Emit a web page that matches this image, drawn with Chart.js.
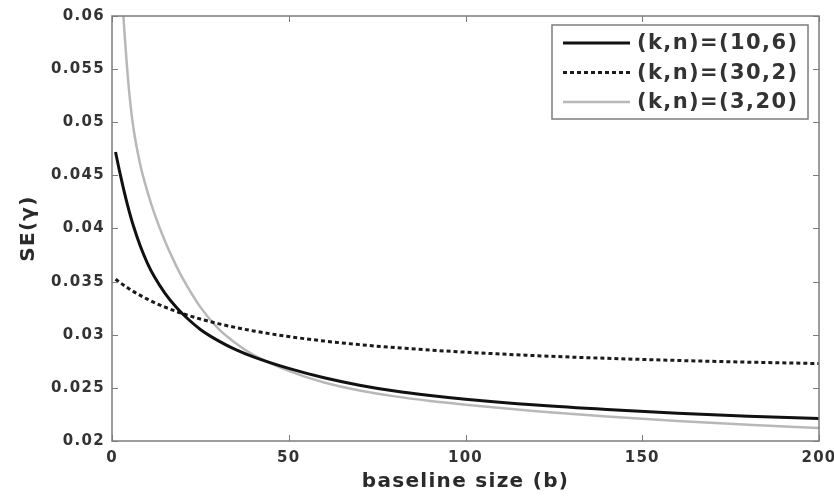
<!DOCTYPE html>
<html lang="en">
<head>
<meta charset="UTF-8">
<title>SE vs baseline size</title>
<script src="https://cdn.jsdelivr.net/npm/chart.js"></script>
<style>
  html, body { margin: 0; padding: 0; background: #fff; }
  #wrap { width: 834px; height: 497px; }
</style>
</head>
<body>
<div id="wrap"><canvas id="grafico" width="834" height="497"></canvas></div>
<script>
// valores
const baseline = [1, 2, 3, 4, 5, 6, 8, 10, 12, 15, 18, 20, 25, 30, 35, 40, 50, 60, 70, 80, 90, 100, 120, 140, 160, 180, 200];
const se_10_6 = [0.04720, 0.04560, 0.04410, 0.04272, 0.04145, 0.04030, 0.03835, 0.03675, 0.03545, 0.03390, 0.03265, 0.03195, 0.03050, 0.02945, 0.02860, 0.02792, 0.02683, 0.02595, 0.02525, 0.02470, 0.02428, 0.02393, 0.02338, 0.02296, 0.02262, 0.02234, 0.02212];
const se_30_2 = [0.03523, 0.03498, 0.03474, 0.03451, 0.03429, 0.03408, 0.03370, 0.03335, 0.03303, 0.03260, 0.03222, 0.03199, 0.03148, 0.03105, 0.03068, 0.03036, 0.02983, 0.02941, 0.02907, 0.02879, 0.02856, 0.02836, 0.02803, 0.02778, 0.02758, 0.02742, 0.02729];
const se_3_20 = [0.07500, 0.06750, 0.06120, 0.05630, 0.05240, 0.04960, 0.04600, 0.04350, 0.04140, 0.03880, 0.03660, 0.03530, 0.03260, 0.03060, 0.02920, 0.02810, 0.02660, 0.02550, 0.02475, 0.02420, 0.02377, 0.02342, 0.02280, 0.02230, 0.02188, 0.02152, 0.02122];
const seriesLabels = ['(k,n)=(10,6)', '(k,n)=(30,2)', '(k,n)=(3,20)'];
const xTicks = [0, 50, 100, 150, 200];
const yTicks = [0.02, 0.025, 0.03, 0.035, 0.04, 0.045, 0.05, 0.055, 0.06];
const yTickLabels = ['0.02', '0.025', '0.03', '0.035', '0.04', '0.045', '0.05', '0.055', '0.06'];

const fonte = '"DejaVu Sans", Verdana, sans-serif';
const corTexto = '#333';
const corEixo = '#7c7c7c';

function pontos(vals) {
    return baseline.map((b, i) => ({ x: b, y: vals[i] }));
}

// texto mais largo, como na figura original
const espacamento = {
    id: 'espacamento',
    beforeDraw(chart) { chart.ctx.letterSpacing = '1.3px'; }
};

// caixa do eixo, ticks para dentro e legenda dentro da area
const moldura = {
    id: 'moldura',
    afterDatasetsDraw(chart) {
        const { ctx, chartArea: a, scales: { x, y } } = chart;
        ctx.save();
        ctx.strokeStyle = corEixo;
        ctx.lineWidth = 1.5;
        ctx.strokeRect(a.left, a.top, a.right - a.left, a.bottom - a.top);
        ctx.beginPath();
        xTicks.forEach(v => {
            const px = Math.round(x.getPixelForValue(v)) + 0.5;
            ctx.moveTo(px, a.bottom); ctx.lineTo(px, a.bottom - 6);
            ctx.moveTo(px, a.top); ctx.lineTo(px, a.top + 6);
        });
        yTicks.forEach(v => {
            const py = Math.round(y.getPixelForValue(v)) + 0.5;
            ctx.moveTo(a.left, py); ctx.lineTo(a.left + 6, py);
            ctx.moveTo(a.right, py); ctx.lineTo(a.right - 6, py);
        });
        ctx.lineWidth = 1;
        ctx.stroke();

        // legenda
        const w = 256, h = 94;
        const bx = a.right - 11 - w, by = a.top + 9;
        ctx.fillStyle = '#fff';
        ctx.fillRect(bx, by, w, h);
        ctx.strokeStyle = corEixo;
        ctx.lineWidth = 1.5;
        ctx.strokeRect(bx, by, w, h);
        ctx.font = 'bold 21px ' + fonte;
        ctx.letterSpacing = '1.4px';
        ctx.textBaseline = 'middle';
        ctx.fillStyle = corTexto;
        chart.data.datasets.forEach((ds, i) => {
            const ly = by + 18 + i * 29.5;
            ctx.beginPath();
            ctx.strokeStyle = ds.borderColor;
            ctx.lineWidth = ds.borderWidth;
            ctx.setLineDash(ds.borderDash || []);
            ctx.moveTo(bx + 11, ly);
            ctx.lineTo(bx + 78, ly);
            ctx.stroke();
            ctx.setLineDash([]);
            ctx.fillText(ds.label, bx + 85, ly + 1);
        });
        ctx.restore();
    }
};

new Chart(document.getElementById('grafico'), {
    type: 'line',
    data: {
        datasets: [
            { label: seriesLabels[0], data: pontos(se_10_6), borderColor: '#111', borderWidth: 3 },
            { label: seriesLabels[1], data: pontos(se_30_2), borderColor: '#1a1a1a', borderWidth: 3, borderDash: [4, 3] },
            { label: seriesLabels[2], data: pontos(se_3_20), borderColor: '#b8b8b8', borderWidth: 2.5 }
        ]
    },
    options: {
        responsive: false,
        animation: false,
        elements: {
            point: { radius: 0 },
            line: { cubicInterpolationMode: 'monotone', fill: false }
        },
        datasets: { line: { clip: 0 } },
        layout: { padding: { left: 0, top: 16, right: 15, bottom: 0 } },
        plugins: {
            legend: { display: false },
            tooltip: { enabled: false }
        },
        scales: {
            x: {
                type: 'linear',
                min: 0,
                max: 200,
                afterBuildTicks: s => { s.ticks = xTicks.map(v => ({ value: v })); },
                afterFit: s => { s.height = 56; s.paddingLeft = 0; s.paddingRight = 0; },
                grid: { display: false, drawTicks: false },
                border: { display: false },
                ticks: { color: corTexto, font: { family: fonte, size: 15, weight: 'bold' }, padding: 8, maxRotation: 0 },
                title: { display: true, text: 'baseline size (b)', color: '#2a2a2a', font: { family: fonte, size: 20, weight: 'bold' }, padding: { top: 0, bottom: 3 } }
            },
            y: {
                type: 'linear',
                min: 0.02,
                max: 0.06,
                afterBuildTicks: s => { s.ticks = yTicks.map(v => ({ value: v })); },
                afterFit: s => { s.width = 112; s.paddingTop = 0; s.paddingBottom = 0; },
                grid: { display: false, drawTicks: false },
                border: { display: false },
                ticks: {
                    color: corTexto,
                    font: { family: fonte, size: 15, weight: 'bold' },
                    padding: 7,
                    callback: (v) => yTickLabels[yTicks.indexOf(v)] ?? ''
                },
                title: { display: true, text: 'SE(γ)', color: '#2a2a2a', font: { family: fonte, size: 20, weight: 'bold' }, padding: { top: 17, bottom: 0 } }
            }
        }
    },
    plugins: [espacamento, moldura]
});
</script>
</body>
</html>
